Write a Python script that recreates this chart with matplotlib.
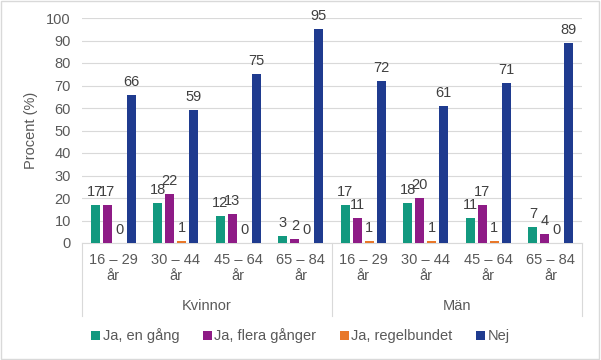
import numpy as np
import matplotlib
matplotlib.use('Agg')
import matplotlib.pyplot as plt
from matplotlib.patches import Rectangle
from matplotlib.lines import Line2D

plt.rcParams['font.family'] = ['Liberation Sans', 'DejaVu Sans']

genders = ['Kvinnor', 'Män']
ages = ['16 – 29\når', '30 – 44\når', '45 – 64\når', '65 – 84\når']
series = ['Ja, en gång', 'Ja, flera gånger', 'Ja, regelbundet', 'Nej']
colors = ['#12997f', '#8e1b86', '#e8782a', '#1f3b8f']

en_gang = [17, 18, 12, 3, 17, 18, 11, 7]
flera = [17, 22, 13, 2, 11, 20, 17, 4]
regelbundet = [0, 1, 0, 0, 1, 1, 1, 0]
nej = [66, 59, 75, 95, 72, 61, 71, 89]
values = [en_gang, flera, regelbundet, nej]

fig = plt.figure(figsize=(6.01, 3.6), dpi=100)
ax = fig.add_axes([82/601, 117/360, 500/601, 225/360])

n = len(genders) * len(ages)
x = np.arange(n)
width = 0.145
step = 0.19
offsets = (np.arange(4) - 1.5) * step

for i, (vals, c, name) in enumerate(zip(values, colors, series)):
    bars = ax.bar(x + offsets[i], vals, width, color=c, label=name, zorder=3)
    for b, v in zip(bars, vals):
        ax.text(b.get_x() + b.get_width() / 2, v + 2.6, str(v),
                ha='center', va='bottom', fontsize=10.5, color='#404040')

ax.set_xlim(-0.5, n - 0.5)
ax.set_ylim(0, 100)
ax.set_yticks(range(0, 101, 10))
ax.yaxis.grid(True, color='#d9d9d9', lw=0.8, zorder=0)
ax.set_axisbelow(True)
for s in ['top', 'right', 'left']:
    ax.spines[s].set_visible(False)
ax.spines['bottom'].set_color('#d9d9d9')
ax.tick_params(axis='y', length=0, labelsize=10.5, labelcolor='#595959', pad=8)
ax.tick_params(axis='x', length=0, labelbottom=False)
ax.set_ylabel('Procent (%)', fontsize=10.5, color='#595959', labelpad=6)

# two-level category axis
trans = ax.get_xaxis_transform()
for k in range(n):
    ax.text(x[k], -0.045, ages[k % 4], transform=trans, ha='center', va='top',
            fontsize=10.5, color='#595959', linespacing=1.2)
for g, name in enumerate(genders):
    ax.text(g * 4 + 1.5, -0.25, name, transform=trans, ha='center', va='top',
            fontsize=10.5, color='#595959')
for xs in [-0.5, 3.5, 7.5]:
    ax.add_line(Line2D([xs, xs], [0, -0.325], transform=trans, color='#d9d9d9',
                       lw=0.8, clip_on=False))

fig.legend(loc='center', bbox_to_anchor=(0.5, 1 - 336/360), ncol=4,
           frameon=False, fontsize=10.5, handlelength=0.6, handleheight=0.6,
           handletextpad=0.2, columnspacing=1.6, labelcolor='#595959')

fig.patches.append(Rectangle((0.002, 0.003), 0.995, 0.994, transform=fig.transFigure,
                             fill=False, edgecolor='#d9d9d9', lw=1))

fig.savefig('out.png', dpi=100)
